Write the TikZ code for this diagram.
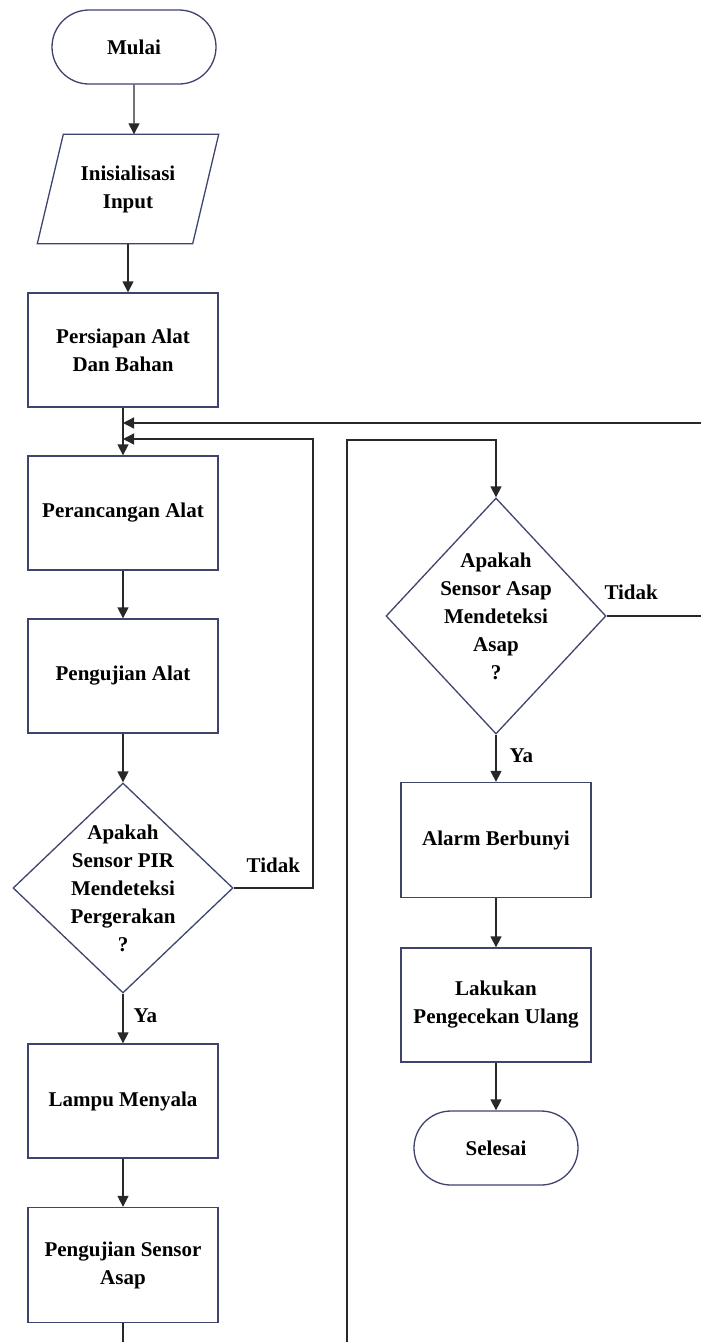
\documentclass[tikz,border=0pt]{standalone}
\usepackage{fontspec}
\setmainfont{Liberation Serif}
\usepackage{tikz}
\usetikzlibrary{shapes.geometric}
\usetikzlibrary{shapes.misc}
\usetikzlibrary{arrows.meta}

\definecolor{navyLine}{RGB}{62,68,110}
\definecolor{lineGray}{RGB}{40,40,40}

\begin{document}
\begin{tikzpicture}[x=1pt, y=-1pt,
        font=\fontsize{21}{28}\selectfont\bfseries,
        box/.style={draw=navyLine, line width=1.3pt, align=center, inner sep=2pt},
        process/.style={box, rectangle, minimum width=190, minimum height=114},
        terminal/.style={box, rounded rectangle, minimum width=168, minimum height=74},
        decision/.style={box, diamond, minimum width=220, inner sep=0pt},
        flow/.style={draw=lineGray, line width=1.3pt, -{Triangle[length=11pt, width=11pt]}},
        wire/.style={draw=lineGray, line width=1.3pt},
        answer/.style={inner sep=2pt}]
        \useasboundingbox (0,0) rectangle (701,1342);

        \node[terminal] (mulai) at (134, 47) {Mulai};
        \node[align=center, minimum width=155, minimum height=109] (input) at (128, 189) {Inisialisasi\\Input};
        \node[process] (persiapan) at (123, 350) {Persiapan Alat\\Dan Bahan};
        \node[process] (perancangan) at (123, 513) {Perancangan Alat};
        \node[process] (pengujian) at (123, 676) {Pengujian Alat};
        \node[decision, minimum height=210] (pir) at (123, 888) {};
        \node[align=center] (pirText) at (pir) {Apakah\\Sensor PIR\\Mendeteksi\\Pergerakan\\?};
        \node[process] (lampu) at (123, 1101) {Lampu Menyala};
        \node[process, minimum height=115] (ujiAsap) at (123, 1265) {Pengujian Sensor\\Asap};

        \node[decision, minimum height=236] (asap) at (496, 616) {};
        \node[align=center] (asapText) at (asap) {Apakah\\Sensor Asap\\Mendeteksi\\Asap\\?};
        \node[process, minimum height=115] (alarm) at (496, 840) {Alarm Berbunyi};
        \node[process] (cekUlang) at (496, 1005) {Lakukan\\Pengecekan Ulang};
        \node[terminal] (selesai) at (496, 1148) {Selesai};

        % parallelogram round the input node
        \draw[navyLine, line width=1.3pt] ([xshift=13pt]input.north west) -- ([xshift=13pt]input.north east)
            -- ([xshift=-13pt]input.south east) -- ([xshift=-13pt]input.south west) -- cycle;

        % loose ends and bends
        \coordinate (mergeTop) at (123, 423);
        \coordinate (mergeLow) at (123, 439);
        \coordinate (loopPir) at (313, 439);
        \coordinate (edgeTop) at (701, 423);
        \coordinate (edgeMid) at (701, 616);
        \coordinate (pageEndL) at (123, 1342);
        \coordinate (pageEndR) at (347, 1342);
        \coordinate (bendAsap) at (347, 440);

        \draw[flow] (mulai) -- (mulai.south |- input.north);
        \draw[flow] (input.south) -- (input.south |- persiapan.north);
        \draw[flow] (persiapan) -- (perancangan);
        \draw[flow] (edgeTop) -- (mergeTop);
        \draw[flow] (pir.east) -| node[pos=0.25, above, answer, yshift=13pt] {Tidak} (loopPir) -- (mergeLow);
        \draw[flow] (perancangan) -- (pengujian);
        \draw[flow] (pengujian) -- (pir);
        \draw[flow] (pir) -- node[anchor=west, answer, xshift=8pt, yshift=3pt] {Ya} (lampu);
        \draw[flow] (lampu) -- (ujiAsap);
        \draw[wire] (ujiAsap) -- (pageEndL);

        \draw[flow] (pageEndR) -- (bendAsap) -| (asap.north);
        \draw[wire] (asap.east) -- node[pos=0.26, above, answer, yshift=14pt] {Tidak} (edgeMid);
        \draw[flow] (asap) -- node[anchor=west, answer, xshift=11pt, yshift=3pt] {Ya} (alarm);
        \draw[flow] (alarm) -- (cekUlang);
        \draw[flow] (cekUlang) -- (selesai);
    \end{tikzpicture}
\end{document}
